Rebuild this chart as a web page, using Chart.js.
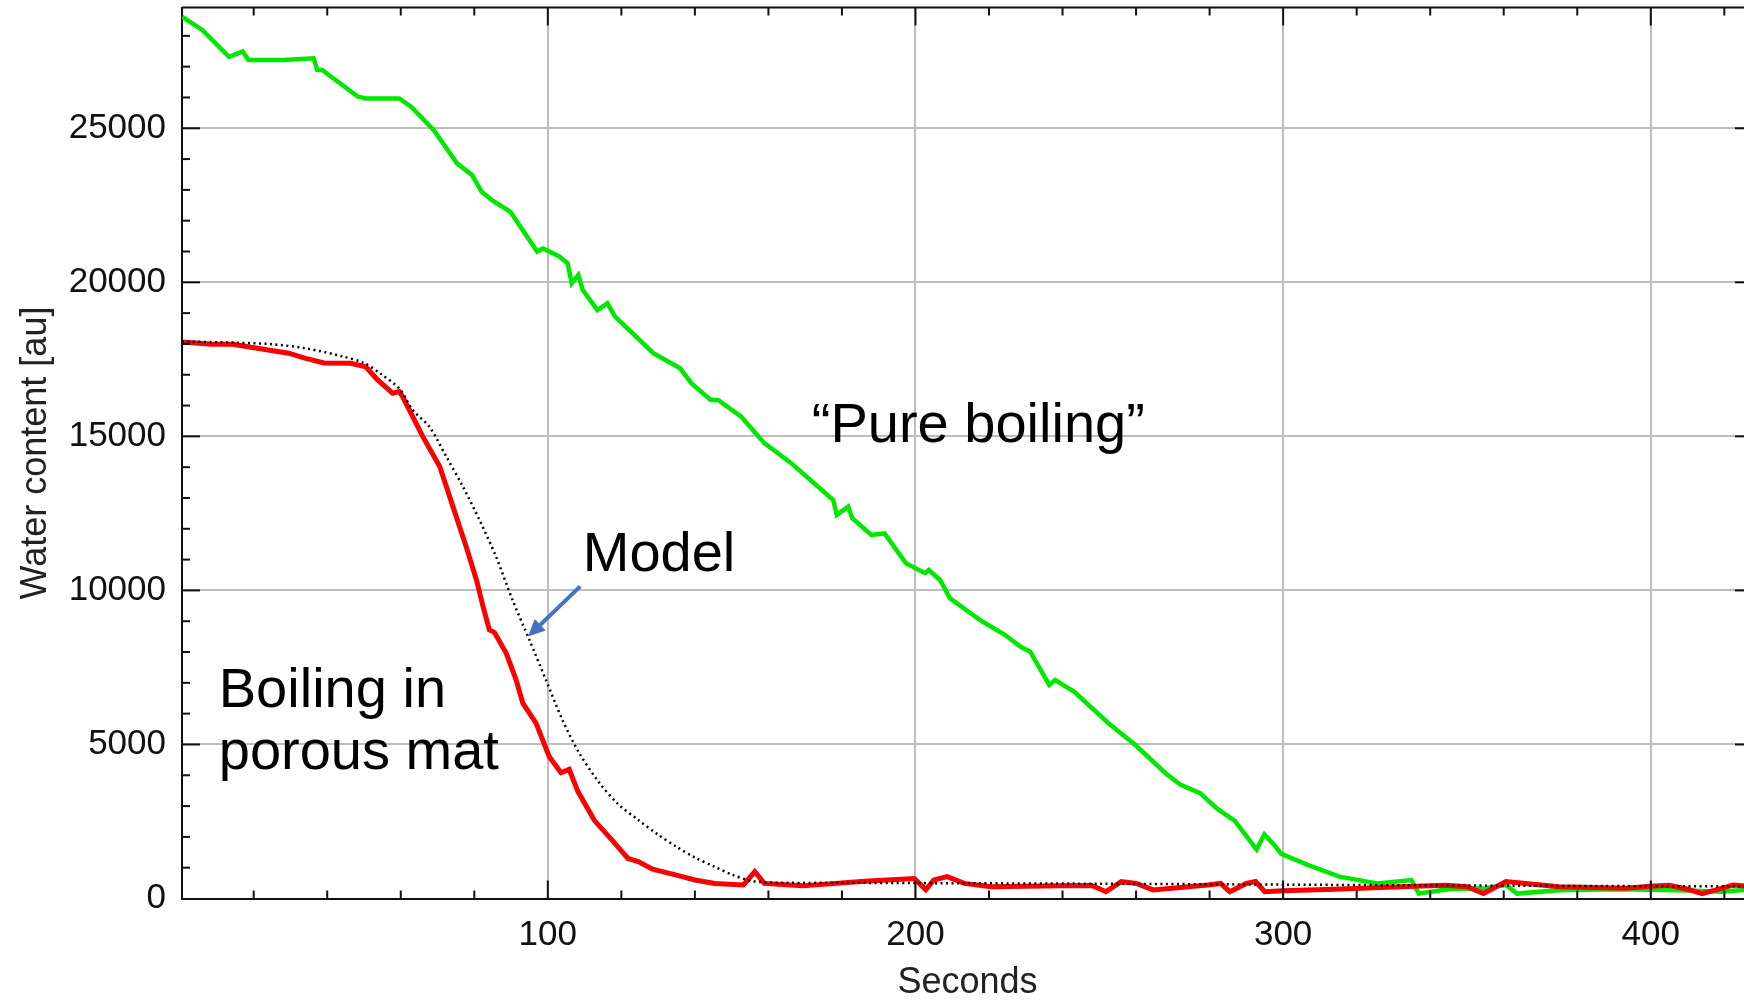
<!DOCTYPE html>
<html>
<head>
<meta charset="utf-8">
<script src="https://cdn.jsdelivr.net/npm/chart.js@4"></script>
<style>
  html, body { margin: 0; padding: 0; background: #fff; overflow: hidden; }
  #wrap { width: 1760px; height: 1003px; }
</style>
</head>
<body>
<div id="wrap"><canvas id="myChart"></canvas></div>
<script>
// values (seconds, water content [au])
const pureSeconds = [0.5, 6, 13.3, 17, 18.6, 27.9, 36.3, 37.3, 38.6, 48.3, 50.4, 59.6, 62.8, 69, 75.3, 79.4, 82, 85, 89.8, 97.1, 98.7, 103, 105.4, 106.5, 108.3, 109.5, 113.5, 116.2, 118.3, 128.7, 136, 139.1, 144.3, 146.3, 152.6, 158.9, 166.2, 176.6, 177.6, 178.6, 181.7, 182.8, 188, 191.6, 197.4, 202.6, 203.6, 206.7, 209.4, 215, 218.2, 224.4, 228.6, 231.2, 236.4, 238, 243.2, 252.5, 259.8, 268.1, 272, 277.4, 282.3, 286.8, 292.8, 294.9, 297.5, 299.5, 306.5, 315.3, 325.6, 334.9, 336.9, 345, 355, 360.6, 363.6, 375, 390, 400, 410, 419.4, 427.8];
const pureValues = [28620, 28190, 27320, 27490, 27220, 27220, 27270, 26890, 26890, 26030, 25970, 25970, 25700, 24940, 23860, 23480, 22940, 22650, 22290, 21000, 21100, 20850, 20620, 19970, 20240, 19750, 19100, 19320, 18890, 17700, 17210, 16720, 16180, 16180, 15640, 14780, 14130, 13040, 12940, 12450, 12720, 12340, 11800, 11850, 10880, 10560, 10660, 10340, 9740, 9260, 8990, 8550, 8170, 8010, 6930, 7090, 6710, 5690, 4980, 4060, 3700, 3420, 2890, 2530, 1590, 2080, 1750, 1450, 1100, 710, 490, 600, 160, 300, 330, 440, 160, 270, 300, 280, 260, 220, 300];

const matSeconds = [0.5, 8.8, 14.3, 23.5, 29.5, 33.9, 39.1, 46.4, 50.5, 53.7, 57.8, 59.6, 60.5, 66, 70.6, 74.2, 77.8, 80.6, 82.4, 84.1, 85.5, 88.7, 91.4, 93.2, 96.8, 100.4, 103.6, 105.8, 108.2, 112.7, 117.3, 121.8, 124.6, 128.5, 135, 140, 145.4, 153.2, 156.3, 158.9, 169.3, 186.1, 199.7, 202.8, 205, 208.6, 213.3, 220.6, 239.3, 248, 251.8, 256, 260.1, 264.6, 279.5, 283, 285.5, 290, 292.5, 295, 300, 314, 332, 344, 350, 354.5, 360.6, 375, 393, 400, 405, 410, 414, 422.5, 427.8];
const matValues = [18060, 17990, 17990, 17810, 17700, 17540, 17380, 17370, 17260, 16830, 16400, 16450, 16290, 14990, 14020, 12720, 11420, 10340, 9470, 8720, 8630, 7960, 7090, 6340, 5690, 4600, 4080, 4190, 3470, 2530, 1920, 1300, 1200, 950, 760, 600, 490, 440, 870, 490, 410, 560, 650, 280, 600, 710, 490, 380, 410, 420, 220, 545, 490, 280, 440, 490, 220, 490, 550, 220, 250, 300, 380, 430, 380, 160, 550, 380, 330, 400, 430, 300, 160, 440, 380];

const modelSeconds = [0.5, 15, 25, 34, 44, 50, 54.3, 59.6, 63.3, 67.8, 72.4, 76.9, 81.4, 85.9, 90.4, 95, 99.5, 104, 108.6, 114.1, 119, 124.6, 130, 135, 140, 145.4, 150, 155.8, 165, 180, 200, 250, 300, 350, 400, 427.8];
const modelValues = [18080, 18040, 17990, 17860, 17600, 17380, 17050, 16550, 15850, 15310, 14340, 13370, 12290, 11100, 9690, 8390, 7090, 5790, 4710, 3740, 3080, 2550, 2070, 1680, 1330, 1030, 780, 560, 510, 510, 500, 480, 450, 420, 400, 400];

const xTickLabels = [100, 200, 300, 400];
const yTickLabels = [0, 5000, 10000, 15000, 20000, 25000];

const font = '"Liberation Sans", Arial, Helvetica, sans-serif';
const pts = (xs, ys) => xs.map((v, i) => ({x: v, y: ys[i]}));

// inward ticks on all four sides, plus top/right frame
const frameTicks = {
  id: 'frameTicks',
  afterDraw(chart) {
    const {ctx, chartArea: a, scales: {x, y}} = chart;
    ctx.save();
    ctx.strokeStyle = '#111';
    ctx.lineWidth = 2;
    const seg = (x1, y1, x2, y2) => { ctx.beginPath(); ctx.moveTo(x1, y1); ctx.lineTo(x2, y2); ctx.stroke(); };
    for (let v = 20; v <= 420; v += 20) {
      const px = x.getPixelForValue(v);
      const len = v % 100 === 0 ? 18 : 8;
      seg(px, a.bottom, px, a.bottom - len);
      seg(px, a.top, px, a.top + len);
    }
    for (let v = 1000; v <= 28000; v += 1000) {
      const py = y.getPixelForValue(v);
      const len = v % 5000 === 0 ? 18 : 8;
      seg(a.left, py, a.left + len, py);
      seg(a.right, py, a.right - len, py);
    }
    seg(a.left, a.top, a.right, a.top);
    seg(a.right, a.top, a.right, a.bottom);
    ctx.restore();
  }
};

// text labels and arrow
const notes = {
  id: 'notes',
  afterDraw(chart) {
    const {ctx, scales: {x, y}} = chart;
    ctx.save();
    ctx.fillStyle = '#000';
    ctx.font = '56px ' + font;
    ctx.textBaseline = 'alphabetic';
    ctx.textAlign = 'left';
    ctx.fillText('\u201CPure boiling\u201D', x.getPixelForValue(171.8), y.getPixelForValue(14820));
    ctx.fillText('Model', x.getPixelForValue(109.5), y.getPixelForValue(10620));
    ctx.fillText('Boiling in', x.getPixelForValue(10.5), y.getPixelForValue(6215));
    ctx.fillText('porous mat', x.getPixelForValue(10.5), y.getPixelForValue(4195));

    const x1 = x.getPixelForValue(108.8), y1 = y.getPixelForValue(10130);
    const x2 = x.getPixelForValue(94.6), y2 = y.getPixelForValue(8500);
    const ang = Math.atan2(y2 - y1, x2 - x1);
    const head = 17, hw = 8;
    ctx.strokeStyle = '#4472C4';
    ctx.fillStyle = '#4472C4';
    ctx.lineWidth = 4;
    ctx.beginPath();
    ctx.moveTo(x1, y1);
    ctx.lineTo(x2 - Math.cos(ang) * head * 0.8, y2 - Math.sin(ang) * head * 0.8);
    ctx.stroke();
    ctx.beginPath();
    ctx.moveTo(x2, y2);
    ctx.lineTo(x2 - Math.cos(ang) * head - Math.sin(ang) * hw, y2 - Math.sin(ang) * head + Math.cos(ang) * hw);
    ctx.lineTo(x2 - Math.cos(ang) * head + Math.sin(ang) * hw, y2 - Math.sin(ang) * head - Math.cos(ang) * hw);
    ctx.closePath();
    ctx.fill();
    ctx.restore();
  }
};

const ctx = document.getElementById('myChart');

new Chart(ctx, {
  type: 'scatter',
  data: {
    datasets: [{
      label: 'Model',
      data: pts(modelSeconds, modelValues),
      showLine: true,
      borderColor: '#000',
      borderWidth: 2.5,
      borderDash: [2, 3.5],
      pointRadius: 0,
      tension: 0.3
    }, {
      label: 'Boiling in porous mat',
      data: pts(matSeconds, matValues),
      showLine: true,
      borderColor: '#fa0000',
      borderWidth: 5,
      pointRadius: 0
    }, {
      label: 'Pure boiling',
      data: pts(pureSeconds, pureValues),
      showLine: true,
      borderColor: '#00e800',
      borderWidth: 4.5,
      pointRadius: 0
    }]
  },
  options: {
    responsive: true,
    maintainAspectRatio: false,
    animation: false,
    layout: { padding: { top: 7.5, right: 7, left: 0, bottom: 0 } },
    plugins: {
      legend: { display: false },
      tooltip: { enabled: false }
    },
    scales: {
      x: {
        type: 'linear',
        min: 0.5,
        max: 427.8,
        afterBuildTicks: s => { s.ticks = xTickLabels.map(v => ({value: v})); },
        afterFit: s => { s.height = 104.5; s.paddingLeft = 0; s.paddingRight = 0; },
        grid: { color: '#bdbdbd', lineWidth: 2, drawTicks: false },
        border: { color: '#111', width: 2 },
        ticks: {
          padding: 16,
          color: '#111',
          font: { family: font, size: 35 },
          maxRotation: 0,
          callback: v => String(v)
        },
        title: {
          display: true,
          text: 'Seconds',
          color: '#222',
          font: { family: font, size: 36, lineHeight: 1.1 },
          padding: { top: 0, bottom: 0 }
        }
      },
      y: {
        min: 0,
        max: 28920,
        afterBuildTicks: s => { s.ticks = yTickLabels.map(v => ({value: v})); },
        afterFit: s => { s.width = 182; s.paddingTop = 0; s.paddingBottom = 0; },
        grid: { color: '#bdbdbd', lineWidth: 2, drawTicks: false },
        border: { color: '#111', width: 2 },
        ticks: {
          padding: 16,
          color: '#111',
          font: { family: font, size: 35 },
          callback: v => String(v)
        },
        title: {
          display: true,
          text: 'Water content [au]',
          color: '#222',
          font: { family: font, size: 36, lineHeight: 1.2 },
          padding: { top: 14, bottom: 0 }
        }
      }
    }
  },
  plugins: [frameTicks, notes]
});
</script>
</body>
</html>
